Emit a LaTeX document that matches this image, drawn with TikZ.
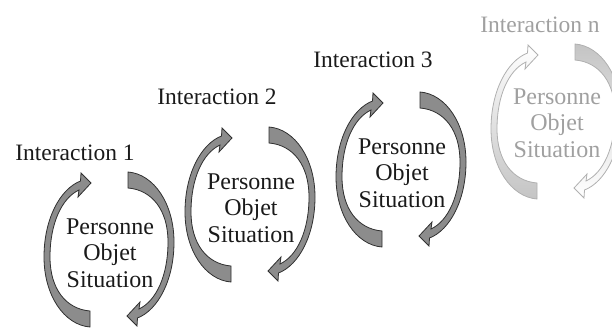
\documentclass[tikz,border=0pt]{standalone}
\usepackage{fontspec}
\setmainfont{Liberation Serif}
\definecolor{arrfill}{HTML}{8C8C8C}
\definecolor{arrline}{HTML}{303030}
\definecolor{txtcol}{HTML}{1A1A1A}
\definecolor{fadeline}{HTML}{B0B0B0}
\definecolor{fadefill}{HTML}{C4C4C4}
\definecolor{fadetext}{HTML}{A0A0A0}
\newcommand\cyclearrowpath{%
  (-20,74) .. controls (-46,72) and (-66,42) .. (-66,4)
  .. controls (-66,-34) and (-50,-64) .. (-29.5,-72)
  -- (-29,-80) -- (-19,-70) -- (-32,-56) -- (-31,-63)
  .. controls (-48,-55) and (-60,-30) .. (-60,4)
  .. controls (-60,36) and (-44,56) .. (-20,58) -- cycle}
\tikzset{
  arr/.style={fill=arrfill, draw=arrline, line width=0.8pt, line join=miter},
  fadeup/.style={top color=white, bottom color=fadefill, draw=fadeline, line width=0.8pt},
  fadedown/.style={top color=fadefill, bottom color=white, draw=fadeline, line width=0.8pt},
  cyc/.style={align=center, text=txtcol, inner sep=0pt, font=\fontsize{24}{26.5}\selectfont},
  lab/.style={text=txtcol, inner sep=0pt, font=\fontsize{23.5}{26}\selectfont},
}
\begin{document}
\begin{tikzpicture}[x=1pt,y=-1pt]
\useasboundingbox (0,0) rectangle (612,329);
% cycle 1
\begin{scope}[shift={(110,253)}]
  \path[arr] \cyclearrowpath;
  \begin{scope}[shift={(-2,-7)},rotate=180]
    \path[arr] \cyclearrowpath;
  \end{scope}
\end{scope}
\node[cyc] (c1) at (110,253) {Personne\\Objet\\Situation};
\node[lab] (l1) at (75,153) {Interaction 1};
% cycle 2
\begin{scope}[shift={(251,208)}]
  \path[arr] \cyclearrowpath;
  \begin{scope}[shift={(-2,-7)},rotate=180]
    \path[arr] \cyclearrowpath;
  \end{scope}
\end{scope}
\node[cyc] (c2) at (251,208) {Personne\\Objet\\Situation};
\node[lab] (l2) at (217,97) {Interaction 2};
% cycle 3
\begin{scope}[shift={(402,173)}]
  \path[arr] \cyclearrowpath;
  \begin{scope}[shift={(-2,-7)},rotate=180]
    \path[arr] \cyclearrowpath;
  \end{scope}
\end{scope}
\node[cyc] (c3) at (402,173) {Personne\\Objet\\Situation};
\node[lab] (l3) at (373,60) {Interaction 3};
% cycle n
\begin{scope}[shift={(557,125)}]
  \path[fadeup] \cyclearrowpath;
  \begin{scope}[shift={(-2,-7)},rotate=180]
    \path[fadedown] \cyclearrowpath;
  \end{scope}
\end{scope}
\node[cyc, text=fadetext] (cn) at (557,123) {Personne\\Objet\\Situation};
\node[lab, text=fadetext] (ln) at (540,25) {Interaction n};
\end{tikzpicture}
\end{document}
